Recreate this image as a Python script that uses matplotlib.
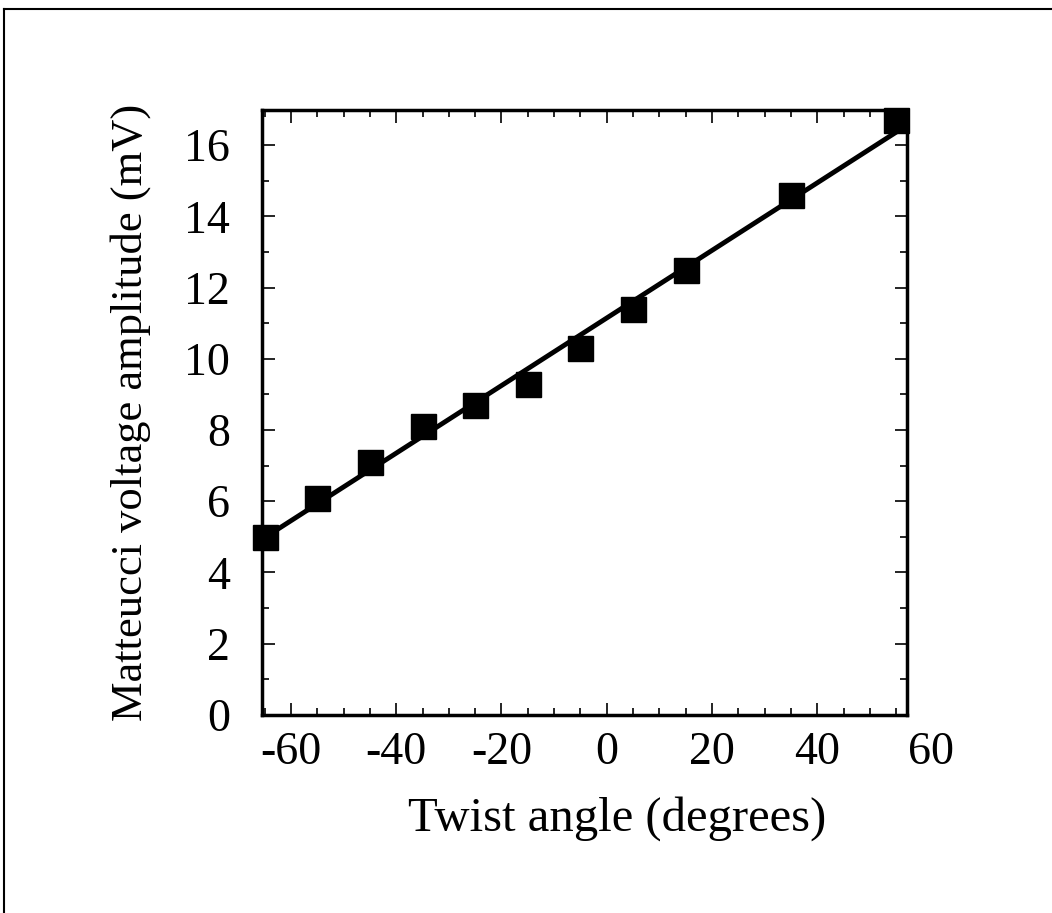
import numpy as np
import matplotlib.pyplot as plt
from matplotlib.lines import Line2D
from matplotlib.ticker import MultipleLocator
import matplotlib.transforms as mtransforms

# twist angle (degrees) and Matteucci voltage amplitude (mV)
angle = [-65, -55, -45, -35, -25, -15, -5, 5, 15, 35, 55]
voltage = [5.0, 6.1, 7.1, 8.1, 8.7, 9.3, 10.3, 11.4, 12.5, 14.6, 16.7]
xticks = [-60, -40, -20, 0, 20, 40]
yticks = [0, 2, 4, 6, 8, 10, 12, 14, 16]

plt.rcParams['font.family'] = ['Liberation Serif', 'DejaVu Serif']
plt.rcParams['axes.unicode_minus'] = False

fig = plt.figure(figsize=(10.52, 9.13), dpi=100)
ax = fig.add_axes([0.249, 0.217, 0.613, 0.663])

# linear fit through the points
k, b = np.polyfit(angle, voltage, 1)
xs = np.array([angle[0], angle[-1]])
ax.plot(xs, k * xs + b, color='black', lw=3.5, zorder=2)
ax.plot(angle, voltage, 's', color='black', markersize=18, zorder=3, clip_on=False)

ax.set_xlim(-65.5, 57)
ax.set_ylim(0, 17)
ax.set_xticks(xticks)
ax.set_yticks(yticks)
ax.xaxis.set_minor_locator(MultipleLocator(5))
ax.yaxis.set_minor_locator(MultipleLocator(1))
ax.tick_params(which='both', direction='in', top=True, right=True, width=1.2,
               labelsize=33)
ax.tick_params(which='major', length=9)
ax.tick_params(which='minor', length=5)
xpad = 12
ax.tick_params(axis='x', pad=xpad)
ax.tick_params(axis='y', pad=23)
for s in ax.spines.values():
    s.set_linewidth(2.5)

# the "60" label sits just past the right edge of the frame
trans = mtransforms.blended_transform_factory(ax.transData, ax.transAxes)
trans = trans + mtransforms.ScaledTranslation(0, -xpad / 72, fig.dpi_scale_trans)
ax.text(61.5, 0, '60', transform=trans, ha='center', va='top', fontsize=33,
        clip_on=False)

ax.set_xlabel('Twist angle (degrees)', fontsize=35)
ax.set_ylabel('Matteucci voltage amplitude (mV)', fontsize=32, labelpad=24)
ax.xaxis.set_label_coords(0.55, -0.135, transform=ax.transAxes)
ax.xaxis.label.set_va('top')

# scan border
fig.add_artist(Line2D([0.004, 0.004], [0.0, 0.99], color='black', lw=1.5))
fig.add_artist(Line2D([0.004, 1.0], [0.99, 0.99], color='black', lw=1.5))

fig.savefig('out.png', dpi=100)
